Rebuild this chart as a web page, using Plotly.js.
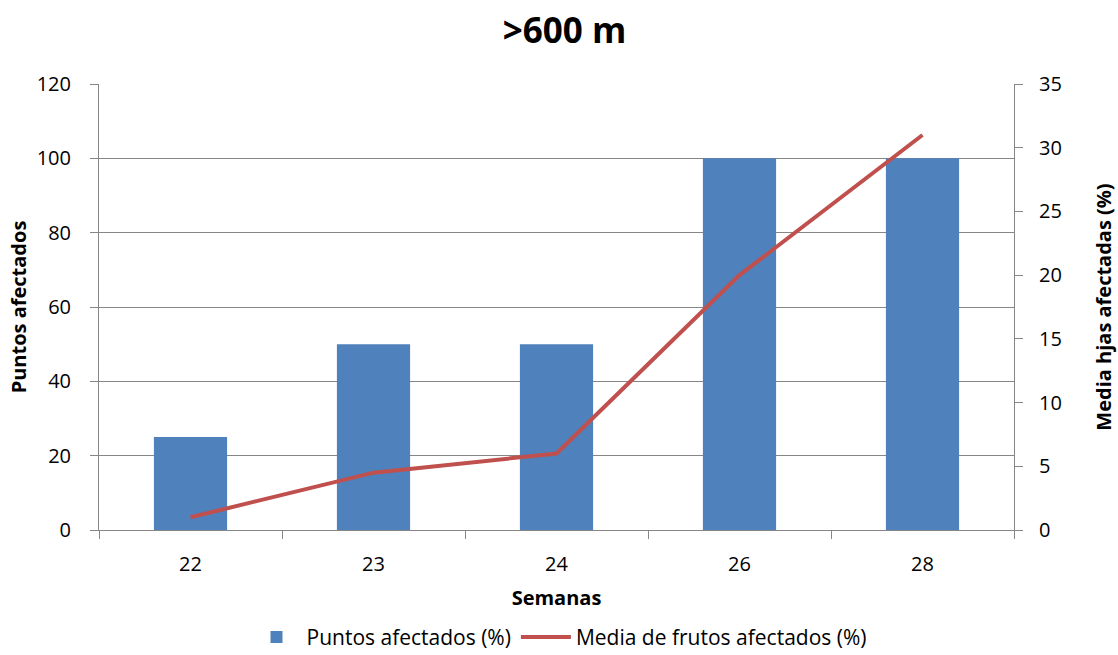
<!DOCTYPE html>
<html><head><meta charset="utf-8">
<script src="https://cdn.plot.ly/plotly-3.0.1.min.js"></script>
<style>body{margin:0;background:#fff}#c{width:1118px;height:655px}</style>
</head><body><div id="c"></div>
<script>
const semanas = ["22","23","24","26","28"];
const puntos = [25, 50, 50, 100, 100];
const mediaFrutos = [1, 4.5, 6, 20, 31];

const font = "Open Sans, Noto Sans, sans-serif";
const traces = [
  {type:"bar", x:semanas, y:puntos, name:"Puntos afectados (%)", marker:{color:"#4F81BD"}, yaxis:"y"},
  {type:"scatter", mode:"lines", x:semanas, y:mediaFrutos, name:"Media de frutos afectados (%)", line:{color:"#C0504D", width:4}, yaxis:"y2"}
];
const layout = {
  width:1118, height:655,
  margin:{l:99, r:104, t:84, b:125, autoexpand:false},
  paper_bgcolor:"#fff", plot_bgcolor:"#fff",
  font:{family:font, size:19, color:"#000"},
  title:{text:"<b>>600 m</b>", x:0.505, xanchor:"center", y:0.953, yanchor:"middle", font:{size:35, family:font}},
  bargap:0.6,
  showlegend:true,
  legend:{orientation:"h", x:0.5, xanchor:"center", xref:"container", y:0.027, yref:"container", yanchor:"middle", font:{size:21}, itemwidth:50, traceorder:"normal"},
  xaxis:{type:"category", tickson:"boundaries", ticks:"outside", ticklen:8, tickcolor:"#868686",
    showline:true, linecolor:"#868686", linewidth:1, showgrid:false, ticklabelstandoff:16,
    title:{text:"<b>Semanas</b>", font:{size:20}, standoff:14}, tickfont:{size:20}},
  yaxis:{range:[0,120], dtick:20, ticks:"outside", ticklen:8, tickcolor:"#868686",
    showline:true, linecolor:"#868686", gridcolor:"#868686", gridwidth:1, zeroline:false, ticklabelstandoff:15,
    title:{text:"<b>Puntos afectados</b>", font:{size:20}, standoff:4}, tickfont:{size:20}},
  yaxis2:{overlaying:"y", side:"right", range:[0,35], dtick:5, ticks:"outside", ticklen:8, tickcolor:"#868686",
    showline:true, linecolor:"#868686", showgrid:false, zeroline:false, ticklabelstandoff:12,
    title:{text:"<b>Media hjas afectadas (%)</b>", font:{size:20}, standoff:36}, tickfont:{size:20}}
};
Plotly.newPlot("c", traces, layout, {displayModeBar:false});
</script></body></html>
